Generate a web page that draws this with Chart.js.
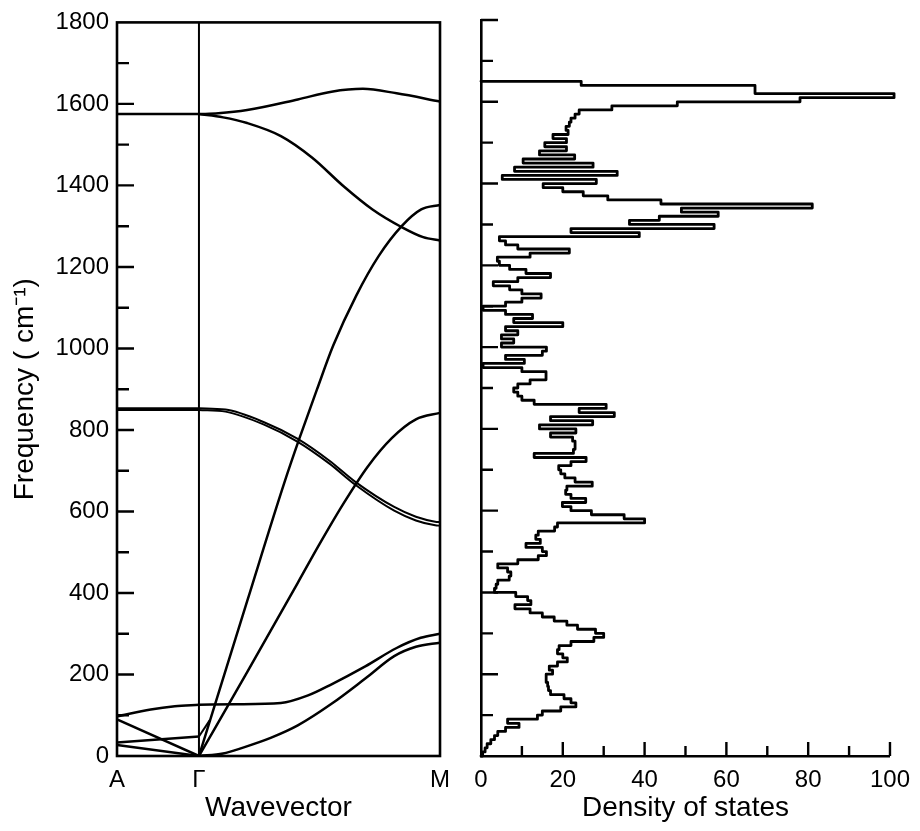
<!DOCTYPE html>
<html>
<head>
<meta charset="utf-8">
<title>Phonon dispersion and density of states</title>
<script src="https://cdn.jsdelivr.net/npm/chart.js@4.4.1/dist/chart.umd.min.js"></script>
<style>
  html, body { margin: 0; padding: 0; background: #fff; }
  #wrap { position: relative; width: 920px; height: 831px; }
  canvas { position: absolute; top: 0; }
  #disp { left: 0; }
  #dos { left: 460px; }
</style>
</head>
<body>
<div id="wrap">
  <canvas id="disp" width="460" height="831"></canvas>
  <canvas id="dos" width="460" height="831"></canvas>
</div>
<script>
// symmetry points along the wavevector axis (Γ = 0, M = 1)
var kPoints = [-0.34, 0, 1];
var kLabels = ['A', 'Γ', 'M'];

// Γ–M branches, [k, frequency in cm-1]
var gmOpticHigh = [[0, 1575], [0.08, 1577], [0.2, 1585], [0.41, 1611], [0.55, 1630], [0.68, 1637], [0.82, 1626], [1, 1606]];
var gmOpticLow = [[0, 1575], [0.1, 1567], [0.2, 1553], [0.34, 1521], [0.47, 1468], [0.6, 1398], [0.72, 1341], [0.84, 1298], [0.93, 1273], [1, 1265]];
var gmLO = [[0, 0], [0.2, 380], [0.355, 672], [0.416, 778], [0.49, 900], [0.557, 1007], [0.652, 1129], [0.746, 1227], [0.841, 1300], [0.922, 1341], [1, 1352]];
var gmLA = [[0, 0], [0.2, 206], [0.41, 425], [0.5, 520], [0.6, 620], [0.7, 710], [0.8, 780], [0.9, 826], [1, 842]];
var gmZOa = [[0, 853], [0.11, 850], [0.27, 819], [0.41, 778], [0.54, 725], [0.65, 672], [0.81, 611], [0.9, 587], [0.98, 575], [1, 574]];
var gmZOb = [[0, 849], [0.11, 845], [0.27, 813], [0.41, 771], [0.54, 718], [0.65, 665], [0.81, 602], [0.9, 578], [0.98, 566], [1, 565]];
var gmShear = [[0, 126], [0.15, 127], [0.34, 130], [0.45, 148], [0.55, 176], [0.69, 220], [0.82, 265], [0.92, 290], [1, 300]];
var gmTA = [[0, 0], [0.1, 6], [0.18, 20], [0.3, 45], [0.41, 75], [0.55, 128], [0.69, 190], [0.81, 245], [0.9, 268], [1, 278]];
var gmStub = [[0, 48], [0.045, 88]];

// Γ–A branches
var gaOptic = [[-0.34, 1575], [0, 1575]];
var gaZOa = [[-0.34, 853], [0, 853]];
var gaZOb = [[-0.34, 849], [0, 849]];
var gaShear = [[-0.34, 97], [-0.2, 114], [-0.1, 122], [0, 126]];
var gaLA = [[-0.34, 90], [0, 0]];
var gaBend = [[-0.34, 33], [0, 48]];
var gaTA = [[-0.34, 27], [0, 0]];
var gammaLine = [[0, 0], [0, 1800]];

// density of states, one value per 10 cm-1 bin starting at 0
var dosStart = 0;
var dosStep = 10;
var dosValues = [
  0.4, 1, 1.5, 2.4, 3.3, 4.1, 6, 9.3, 6.5, 13.8,
  15, 19.5, 23.2, 22, 20.3, 17, 16.5, 16.3, 16, 15.9,
  17.5, 16.7, 18.7, 21.1, 20, 18.7, 19.1, 22, 27.6, 30,
  28, 23.6, 21, 17.9, 15, 12, 8.3, 12.2, 11.4, 8.5,
  3.3, 3.7, 4.1, 6.9, 7.3, 6.5, 4.1, 9, 14, 16,
  15, 11, 14.5, 13.4, 14, 18, 18.7, 40, 35, 27,
  22, 19.9, 25.6, 22, 20.7, 21, 27.2, 23, 20.5, 19.5,
  19, 22, 25.7, 13, 22.6, 23, 23, 22.4, 17, 23.2,
  14.3, 27.3, 17, 32.6, 24, 30.6, 13, 10, 9, 8,
  9, 12, 15.9, 15.9, 10, 0.5, 10.6, 6, 15, 16,
  5, 8, 5, 9, 6, 20, 8, 12.6, 6, 0.5,
  6, 10, 14.7, 10, 7, 3, 9, 17, 11, 7,
  4.5, 4, 12, 21.6, 9, 6, 4.5, 38.7, 22, 57,
  36.3, 43.6, 58, 49, 81, 44, 31, 25, 20, 15.2,
  28.2, 5.2, 33.3, 8.2, 27.4, 10.3, 22.9, 14.3, 20.9, 15.6,
  20.9, 17.6, 21.3, 20.8, 21.6, 22, 23, 24, 32, 48,
  78, 101, 67, 67, 24.5
];

var FONT = '"Liberation Sans", Arial, sans-serif';
var tickFont = { family: FONT, size: 24 };
var titleFont = { family: FONT, size: 28 };
var INK = '#000';

function pts(arr) {
  return arr.map(function (p) { return { x: p[0], y: p[1] }; });
}

function curve(arr, width) {
  return {
    data: pts(arr),
    borderColor: INK,
    borderWidth: width || 2.5,
    pointRadius: 0,
    fill: false,
    cubicInterpolationMode: 'monotone'
  };
}

function straight(arr, width) {
  return {
    data: pts(arr),
    borderColor: INK,
    borderWidth: width || 2.5,
    pointRadius: 0,
    fill: false,
    tension: 0
  };
}

// short tick marks drawn on the inside of the axes
function innerTicks(yTop, xTicks) {
  return {
    id: 'innerTicks',
    afterDraw: function (chart) {
      var a = chart.chartArea, ctx = chart.ctx;
      var ys = chart.scales.y, xs = chart.scales.x;
      ctx.save();
      ctx.strokeStyle = INK;
      ctx.lineWidth = 2.4;
      ctx.beginPath();
      for (var v = 100; v <= yTop; v += 100) {
        var py = ys.getPixelForValue(v);
        var len = v % 200 === 0 ? 17 : 12;
        ctx.moveTo(a.left, py);
        ctx.lineTo(a.left + len, py);
      }
      if (xTicks) {
        for (var d = 10; d <= 100; d += 10) {
          var px = xs.getPixelForValue(d);
          var l = d % 20 === 0 ? 14 : 10;
          ctx.moveTo(px, a.bottom);
          ctx.lineTo(px, a.bottom - l);
        }
      }
      ctx.stroke();
      ctx.restore();
    }
  };
}

var frame = {
  id: 'frame',
  afterDatasetsDraw: function (chart) {
    var a = chart.chartArea, ctx = chart.ctx;
    ctx.save();
    ctx.strokeStyle = INK;
    ctx.lineWidth = 2.6;
    ctx.strokeRect(a.left, a.top, a.right - a.left, a.bottom - a.top);
    ctx.restore();
  }
};

var common = {
  responsive: false,
  animation: false,
  devicePixelRatio: 1,
  events: [],
  plugins: { legend: { display: false }, tooltip: { enabled: false } }
};

function plain(v) { return String(v); }

// phonon dispersion along A–Γ–M
new Chart(document.getElementById('disp'), {
  type: 'line',
  data: {
    datasets: [
      straight(gammaLine, 2),
      straight(gaOptic), straight(gaZOa, 2), straight(gaZOb, 2),
      curve(gaShear), straight(gaLA), straight(gaBend), straight(gaTA),
      curve(gmOpticHigh), curve(gmOpticLow), curve(gmLO), curve(gmLA),
      curve(gmZOa, 2), curve(gmZOb, 2), curve(gmShear), curve(gmTA),
      straight(gmStub, 2)
    ]
  },
  options: Object.assign({}, common, {
    layout: { padding: { left: 8, top: 20, right: 16, bottom: 0 } },
    scales: {
      x: {
        type: 'linear',
        min: kPoints[0],
        max: kPoints[kPoints.length - 1],
        grid: { display: false, drawTicks: false },
        border: { display: false },
        afterBuildTicks: function (s) { s.ticks = kPoints.map(function (v) { return { value: v }; }); },
        afterFit: function (s) { s.height = 75; },
        ticks: {
          autoSkip: false, maxRotation: 0, color: INK, font: tickFont, padding: 10,
          callback: function (v, i) { return kLabels[i]; }
        },
        title: { display: true, text: 'Wavevector', color: INK, font: titleFont, padding: { top: 0, bottom: 6 } }
      },
      y: {
        type: 'linear',
        min: 0,
        max: 1800,
        grid: { display: false, drawTicks: false },
        border: { display: false },
        afterFit: function (s) { s.width = 109; },
        ticks: { stepSize: 200, color: INK, font: tickFont, padding: 8, callback: plain },
        title: { display: true, text: 'Frequency ( cm⁻¹)', color: INK, font: titleFont, padding: { top: 0, bottom: 0 } }
      }
    }
  }),
  plugins: [frame, innerTicks(1700, false)]
});

// density of states as a step outline
var dosPoints = [{ x: 0, y: dosStart }];
dosValues.forEach(function (d, i) {
  var lo = dosStart + i * dosStep;
  dosPoints.push({ x: d, y: lo }, { x: d, y: lo + dosStep });
});
dosPoints.push({ x: 0, y: dosStart + dosValues.length * dosStep });

new Chart(document.getElementById('dos'), {
  type: 'line',
  data: {
    datasets: [{
      data: dosPoints,
      borderColor: INK,
      borderWidth: 2.8,
      borderJoinStyle: 'round',
      borderCapStyle: 'round',
      pointRadius: 0,
      fill: false,
      tension: 0,
      clip: false
    }]
  },
  options: Object.assign({}, common, {
    layout: { padding: { left: 0, top: 20, right: 30, bottom: 0 } },
    scales: {
      x: {
        type: 'linear',
        min: 0,
        max: 100,
        grid: { display: false, drawTicks: false },
        border: { display: true, color: INK, width: 2.6 },
        afterFit: function (s) { s.height = 75; },
        ticks: { stepSize: 20, maxRotation: 0, color: INK, font: tickFont, padding: 10, callback: plain },
        title: { display: true, text: 'Density of states', color: INK, font: titleFont, padding: { top: 0, bottom: 6 } }
      },
      y: {
        type: 'linear',
        min: 0,
        max: 1800,
        grid: { display: false, drawTicks: false },
        border: { display: true, color: INK, width: 2.6 },
        afterFit: function (s) { s.width = 21; },
        ticks: { display: false, stepSize: 100 }
      }
    }
  }),
  plugins: [innerTicks(1800, true)]
});
</script>
</body>
</html>
